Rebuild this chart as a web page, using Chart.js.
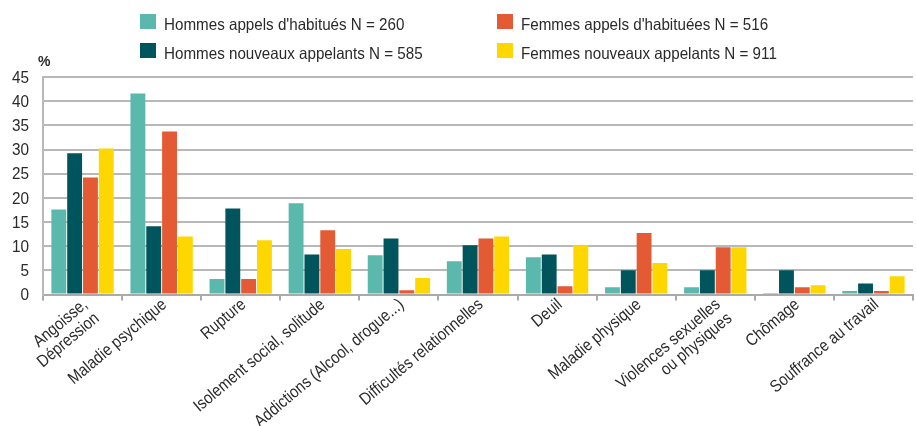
<!DOCTYPE html>
<html><head><meta charset="utf-8">
<script src="https://cdn.jsdelivr.net/npm/chart.js@4/dist/chart.umd.min.js"></script>
<style>html,body{margin:0;padding:0;background:#fff}#wrap{width:916px;height:426px;position:relative}</style>
</head><body><div id="wrap"><canvas id="c" width="916" height="426"></canvas></div>
<script>
const categories = [["Angoisse,","Dépression"],"Maladie psychique","Rupture","Isolement social, solitude","Addictions (Alcool, drogue...)","Difficultés relationnelles","Deuil","Maladie physique",["Violences sexuelles","ou physiques"],"Chômage","Souffrance au travail"];
const seriesNames = ["Hommes appels d'habitués N = 260","Hommes nouveaux appelants N = 585","Femmes appels d'habituées N = 516","Femmes nouveaux appelants N = 911"];
const hommesHabitues = [17.6,41.6,3.2,18.9,8.1,6.9,7.7,1.5,1.5,0.3,0.7];
const hommesNouveaux = [29.2,14.1,17.8,8.3,11.6,10.2,8.3,5.0,5.0,5.0,2.3];
const femmesHabituees = [24.2,33.7,3.2,13.3,0.9,11.6,1.7,12.7,9.8,1.5,0.7];
const femmesNouveaux = [30.2,12.0,11.2,9.4,3.4,12.0,10.2,6.5,9.8,1.9,3.8];
const yMax = 45, yStep = 5;
const unitLabel = "%";
const colors = ["#5BB8AD","#00545C","#E45A35","#FFD700"];
const FONT = '"Liberation Sans",Arial,sans-serif';
const TEXT = '#2a2a2a';

const textPlugin = {
  id:'customText',
  afterDraw(chart){
    const ctx = chart.ctx;
    ctx.save();
    // legend (2 x 2 grid)
    const pos = [[140,29],[140,58],[497,29],[497,58]];
    ctx.font = '16.5px ' + FONT;
    ctx.textBaseline = 'alphabetic';
    ctx.textAlign = 'left';
    chart.data.datasets.forEach((ds,i)=>{
      const [x,y] = pos[i];
      ctx.fillStyle = ds.backgroundColor;
      ctx.fillRect(x, y-15, 16, 15);
      ctx.fillStyle = TEXT;
      ctx.save();
      ctx.translate(x+24, y+1);
      ctx.scale(0.92,1);
      ctx.fillText(ds.label, 0, 0);
      ctx.restore();
    });
    // unit
    ctx.font = 'bold 14px ' + FONT;
    ctx.fillText(unitLabel, 38, 66);
    // y tick labels
    const ys = chart.scales.y;
    ctx.font = '17px ' + FONT;
    ctx.textAlign = 'right';
    ctx.textBaseline = 'middle';
    ys.ticks.forEach(t=>{
      const py = ys.getPixelForValue(t.value);
      ctx.save();
      ctx.translate(29, py+1);
      ctx.scale(0.9,1);
      ctx.fillText(String(t.value), 0, 0);
      ctx.restore();
    });
    // x tick labels, rotated
    const xs = chart.scales.x;
    const ang = -40*Math.PI/180;
    const lh = 18;
    ctx.font = '17px ' + FONT;
    chart.data.labels.forEach((lab,i)=>{
      const px = xs.getPixelForTick(i);
      const lines = Array.isArray(lab) ? lab : [lab];
      ctx.save();
      ctx.translate(px-2.5, xs.top+1.5);
      ctx.rotate(ang);
      ctx.scale(0.87,1);
      ctx.textAlign = 'right';
      ctx.textBaseline = 'top';
      lines.forEach((ln,j)=>ctx.fillText(ln, 0, j*lh));
      ctx.restore();
    });
    ctx.restore();
  }
};

new Chart(document.getElementById('c'), {
  type:'bar',
  data:{
    labels:categories,
    datasets:[
      {label:seriesNames[0], data:hommesHabitues, backgroundColor:colors[0]},
      {label:seriesNames[1], data:hommesNouveaux, backgroundColor:colors[1]},
      {label:seriesNames[2], data:femmesHabituees, backgroundColor:colors[2]},
      {label:seriesNames[3], data:femmesNouveaux, backgroundColor:colors[3]}
    ]
  },
  options:{
    responsive:false, animation:false, devicePixelRatio:1,
    categoryPercentage:0.8, barPercentage:0.94,
    layout:{padding:{top:77,right:3,left:0,bottom:0}},
    plugins:{legend:{display:false}, tooltip:{enabled:false}},
    scales:{
      x:{
        grid:{offset:true, drawOnChartArea:false, drawTicks:true, tickLength:6, color:'#aaaaaa', lineWidth:2},
        border:{display:true, color:'#aaaaaa', width:2},
        ticks:{display:false, autoSkip:false},
        afterFit(s){ s.height = 131.5; }
      },
      y:{
        min:0, max:yMax,
        grid:{color:'#b8b8b8', lineWidth:2, drawTicks:false},
        border:{display:true, color:'#b8b8b8', width:2},
        ticks:{display:false, stepSize:yStep},
        afterFit(s){ s.width = 43; }
      }
    }
  },
  plugins:[textPlugin]
});
</script></body></html>
